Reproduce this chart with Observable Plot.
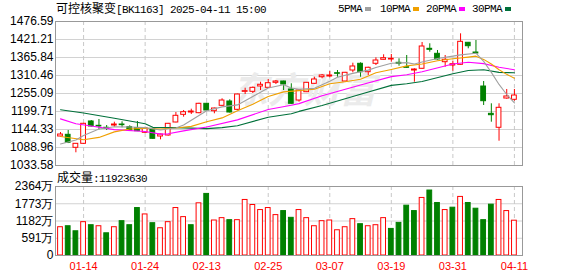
<!DOCTYPE html>
<html><head><meta charset="utf-8">
<script src="https://cdn.jsdelivr.net/npm/d3@7"></script>
<script src="https://cdn.jsdelivr.net/npm/@observablehq/plot@0.6"></script>
<style>
body{margin:0;background:#fff;}
#wrap{position:relative;width:578px;height:276px;overflow:hidden;background:#fff;}
#wrap svg{position:absolute;left:0;}
.t{position:absolute;white-space:nowrap;font-size:12px;line-height:14px;color:#000;z-index:2;}
.cjk{font-family:"Noto Sans CJK SC",sans-serif;font-size:12px;}
.mono{font-family:"Liberation Mono",monospace;font-size:11px;letter-spacing:-0.6px;}
.sw{position:absolute;width:6px;height:4px;top:7px;z-index:2;}
</style></head><body><div id="wrap"></div>
<script>
const dates = ["01-09","01-10","01-13","01-14","01-15","01-16","01-17","01-20","01-21","01-22","01-23","01-24","01-27","02-05","02-06","02-07","02-10","02-11","02-12","02-13","02-14","02-17","02-18","02-19","02-20","02-21","02-24","02-25","02-26","02-27","02-28","03-03","03-04","03-05","03-06","03-07","03-10","03-11","03-12","03-13","03-14","03-17","03-18","03-19","03-20","03-21","03-24","03-25","03-26","03-27","03-28","03-31","04-01","04-02","04-03","04-07","04-08","04-09","04-10","04-11"];
const open  = [1122.8,1128.0,1088.0,1100.3,1169.0,1155.7,1149.6,1156.6,1159.7,1151.4,1148.3,1134.2,1146.5,1122.8,1125.9,1165.9,1189.5,1196.6,1194.5,1223.4,1200.6,1217.2,1230.5,1204.9,1260.3,1260.3,1276.6,1272.6,1288.0,1292.0,1267.4,1233.5,1259.1,1284.9,1305.2,1307.4,1317.5,1292.0,1325.8,1346.5,1320.6,1346.5,1358.8,1359.7,1349.5,1336.0,1325.8,1331.1,1392.6,1377.2,1351.4,1341.2,1343.4,1411.1,1381.2,1276.6,1192.6,1149.6,1239.7,1235.7];
const high  = [1135.1,1141.3,1101.0,1163.0,1172.0,1175.1,1156.6,1166.8,1168.0,1155.7,1169.0,1149.0,1147.0,1130.0,1163.0,1196.6,1202.8,1206.8,1225.0,1225.0,1210.0,1238.8,1235.7,1253.0,1271.4,1275.0,1289.8,1298.2,1295.1,1293.0,1285.0,1265.0,1289.0,1305.2,1313.5,1322.7,1325.8,1320.0,1348.3,1349.5,1336.0,1364.9,1374.2,1375.1,1361.8,1372.0,1331.1,1412.0,1408.0,1387.4,1372.0,1354.5,1438.7,1412.0,1418.1,1292.0,1223.4,1223.4,1267.4,1267.4];
const low   = [1119.8,1101.0,1072.7,1099.0,1152.0,1143.4,1141.3,1151.4,1149.6,1140.0,1138.0,1133.0,1114.0,1112.6,1124.0,1165.0,1182.2,1190.5,1193.0,1201.0,1192.6,1216.0,1195.0,1203.0,1252.0,1255.0,1264.3,1271.0,1282.8,1264.3,1222.0,1228.3,1258.0,1284.0,1300.3,1303.4,1305.2,1291.0,1318.8,1305.2,1310.5,1341.2,1358.0,1351.4,1339.1,1333.0,1289.8,1330.0,1382.1,1358.0,1336.0,1323.7,1342.0,1392.6,1377.0,1218.2,1166.8,1108.3,1237.6,1231.4];
const close = [1128.9,1103.4,1100.3,1161.9,1153.6,1153.6,1146.5,1159.7,1157.7,1141.3,1139.1,1148.3,1115.7,1128.9,1161.9,1186.5,1197.6,1199.7,1223.4,1202.8,1208.9,1233.5,1196.6,1252.0,1262.2,1272.6,1281.9,1286.8,1292.0,1282.8,1223.4,1264.3,1288.0,1298.2,1310.5,1310.5,1315.7,1318.8,1338.2,1320.6,1334.2,1356.6,1363.7,1361.8,1346.5,1334.2,1328.9,1399.7,1389.5,1359.7,1358.8,1345.2,1414.1,1400.6,1378.2,1231.4,1188.3,1211.1,1245.9,1248.9];
// volume in 万
const volume = [969,1003,830,1142,1038,1003,761,969,1176,1038,1626,1407,1107,934,1142,1626,1315,1038,1788,2110,1199,1280,1211,1211,1903,1730,1557,1626,1384,1522,1291,1557,1280,1003,1176,1199,865,969,1246,1073,1003,1038,1280,911,1118,1707,1522,1972,2226,1799,1557,1638,2007,1799,1603,1211,1742,1903,1522,1192.363];
const volUp = [1,0,0,1,0,1,0,1,0,0,0,1,0,1,1,1,1,0,1,0,1,1,0,1,1,1,1,1,1,0,0,1,1,1,1,1,1,1,1,0,1,1,1,0,0,0,0,1,0,0,1,0,1,0,0,0,0,1,1,1];
const lastVolume = "11923630";

const ma5Day  = [0,2,3,5,7,9,11,13,15,16,17,19,21,23,25,27,29,30,31,33,35,36,38,40,41,43,45,46,47,49,51,52,54,55,56,57,58,59];
const ma5     = [1100,1112,1126,1146,1153,1152,1150,1143,1149,1158,1173,1202,1214,1220,1246,1272,1282,1272,1268,1271,1293,1305,1317,1327,1335,1348,1350,1346,1352,1363,1370,1374,1379,1354,1320,1283,1252,1226];
const ma10Day = [0,3,5,7,9,11,13,15,17,19,21,23,25,27,29,31,33,35,37,39,41,43,45,47,49,51,53,54,55,56,57,58,59];
const ma10    = [1123,1113,1120,1137,1146,1148,1146,1149,1154,1168,1180,1202,1222,1246,1260,1264,1268,1285,1291,1299,1319,1329,1340,1346,1356,1362,1367,1370,1360,1346,1328,1314,1302];
const ma20Day = [0,2,4,7,11,13,14,16,19,23,27,30,31,34,39,43,45,47,51,53,55,57,59];
const ma20    = [1177,1162,1155,1144,1138,1130,1131,1140,1152,1174,1206,1219,1224,1248,1281,1307,1313,1322,1346,1351,1347,1336,1328];
const ma30Day = [0,3,7,11,12,15,19,21,23,27,30,31,34,39,43,45,47,51,53,55,57,59];
const ma30    = [1205,1195,1179,1162,1151,1150,1147,1150,1156,1182,1193,1200,1218,1253,1280,1285,1292,1316,1326,1328,1320,1319];

const priceTicks = [1476.59,1421.21,1365.84,1310.46,1255.09,1199.71,1144.33,1088.96,1033.58];
const volTicks = [0,591,1182,1773,2364];
const dateTicks = ["01-14","01-24","02-13","02-25","03-07","03-19","03-31","04-11"];

const RED = "#ff0000", GREEN = "#008000";
const C5 = "#a0a0a0", C10 = "#f0a000", C20 = "#ff00ff", C30 = "#00703a";

const rows = dates.map((d, i) => ({i, d, o: open[i], h: high[i], l: low[i], c: close[i]}));
const vols = dates.map((d, i) => ({i, d, v: volume[i], up: volUp[i]}));
const tickIdx = dateTicks.map(t => dates.indexOf(t));
const maRows = (days, vals) => days.map((i, k) => ({i, v: vals[k]}));
const up = d => d.c >= d.o;
const HW = 0.31;
const xDomain = [-0.65, 60.05];
const style = {fontSize: "12px", fontFamily: "'Liberation Sans', sans-serif", color: "#000", background: "transparent", overflow: "visible"};

const topPlot = Plot.plot({
  width: 578, height: 166, marginLeft: 55, marginRight: 56, marginTop: 21, marginBottom: 1,
  style,
  x: {type: "linear", domain: xDomain, axis: null},
  y: {domain: [1033.58, 1476.59], ticks: priceTicks, tickFormat: d => d.toFixed(2), tickSize: 0, tickPadding: 2, label: null},
  marks: [
    Plot.ruleY(priceTicks, {stroke: "#d2d2d2", strokeOpacity: 1}),
    Plot.ruleX(tickIdx, {stroke: "#c8c8c8", strokeOpacity: 1, strokeDasharray: "4,3"}),
    Plot.text(["东方财富"], {text: d => d, frameAnchor: "middle", dx: 15, dy: -2, fontSize: 36, fontWeight: "bold", fontStyle: "italic", fill: "#ebebeb", fontFamily: "'Noto Sans CJK SC', sans-serif"}),
    Plot.ruleX(rows, {x: "i", y1: "l", y2: "h", stroke: d => up(d) ? RED : GREEN, strokeWidth: 1}),
    Plot.rect(rows, {x1: d => d.i - HW, x2: d => d.i + HW, y1: "o", y2: "c", fill: d => up(d) ? "white" : GREEN, stroke: d => up(d) ? RED : GREEN, strokeWidth: 1}),
    Plot.line(maRows(ma30Day, ma30), {x: "i", y: "v", stroke: C30, strokeWidth: 1.1}),
    Plot.line(maRows(ma20Day, ma20), {x: "i", y: "v", stroke: C20, strokeWidth: 1.1}),
    Plot.line(maRows(ma10Day, ma10), {x: "i", y: "v", stroke: C10, strokeWidth: 1.1}),
    Plot.line(maRows(ma5Day, ma5), {x: "i", y: "v", stroke: C5, strokeWidth: 1.1}),
    Plot.frame({stroke: "#999", strokeOpacity: 1})
  ]
});

const botPlot = Plot.plot({
  width: 578, height: 110, marginLeft: 55, marginRight: 56, marginTop: 20, marginBottom: 21,
  style,
  x: {type: "linear", domain: xDomain, axis: null},
  y: {domain: [0, 2364], ticks: volTicks, tickFormat: d => d === 0 ? "0" : d + "万", tickSize: 0, tickPadding: 2, label: null},
  marks: [
    Plot.ruleY(volTicks, {stroke: "#d2d2d2", strokeOpacity: 1}),
    Plot.ruleX(tickIdx, {stroke: "#c8c8c8", strokeOpacity: 1, strokeDasharray: "4,3"}),
    Plot.rect(vols, {x1: d => d.i - HW, x2: d => d.i + HW, y1: 0, y2: "v", fill: d => d.up ? "white" : GREEN, stroke: d => d.up ? RED : GREEN, strokeWidth: 1}),
    Plot.frame({stroke: "#999", strokeOpacity: 1}),
    Plot.text(tickIdx, {x: d => d, text: i => dates[i], frameAnchor: "bottom", lineAnchor: "middle", dy: 11, fill: RED, fontSize: 11, fontFamily: "'Liberation Sans', sans-serif"})
  ]
});

const wrap = document.getElementById("wrap");
topPlot.style.top = "0px";
botPlot.style.top = "166px";
wrap.appendChild(topPlot);
wrap.appendChild(botPlot);

function addText(html, left, top) {
  const el = document.createElement("div");
  el.className = "t";
  el.style.left = left + "px";
  el.style.top = top + "px";
  el.innerHTML = html;
  wrap.appendChild(el);
}
function addSwatch(color, left) {
  const el = document.createElement("div");
  el.className = "sw";
  el.style.left = left + "px";
  el.style.background = color;
  wrap.appendChild(el);
}
addText('<span class="cjk">可控核聚变</span><span class="mono">[BK1163] 2025-04-11 15:00</span>', 56, 1);
const legend = [["5PMA", C5, 338, 365], ["10PMA", C10, 380, 413], ["20PMA", C20, 426, 459], ["30PMA", C30, 472, 505]];
legend.forEach(([name, col, tx, sx]) => { addText('<span class="mono">' + name + '</span>', tx, 1); addSwatch(col, sx); });
addText('<span class="cjk">成交量</span><span class="mono">:' + lastVolume + '</span>', 57, 170);
</script></body></html>
